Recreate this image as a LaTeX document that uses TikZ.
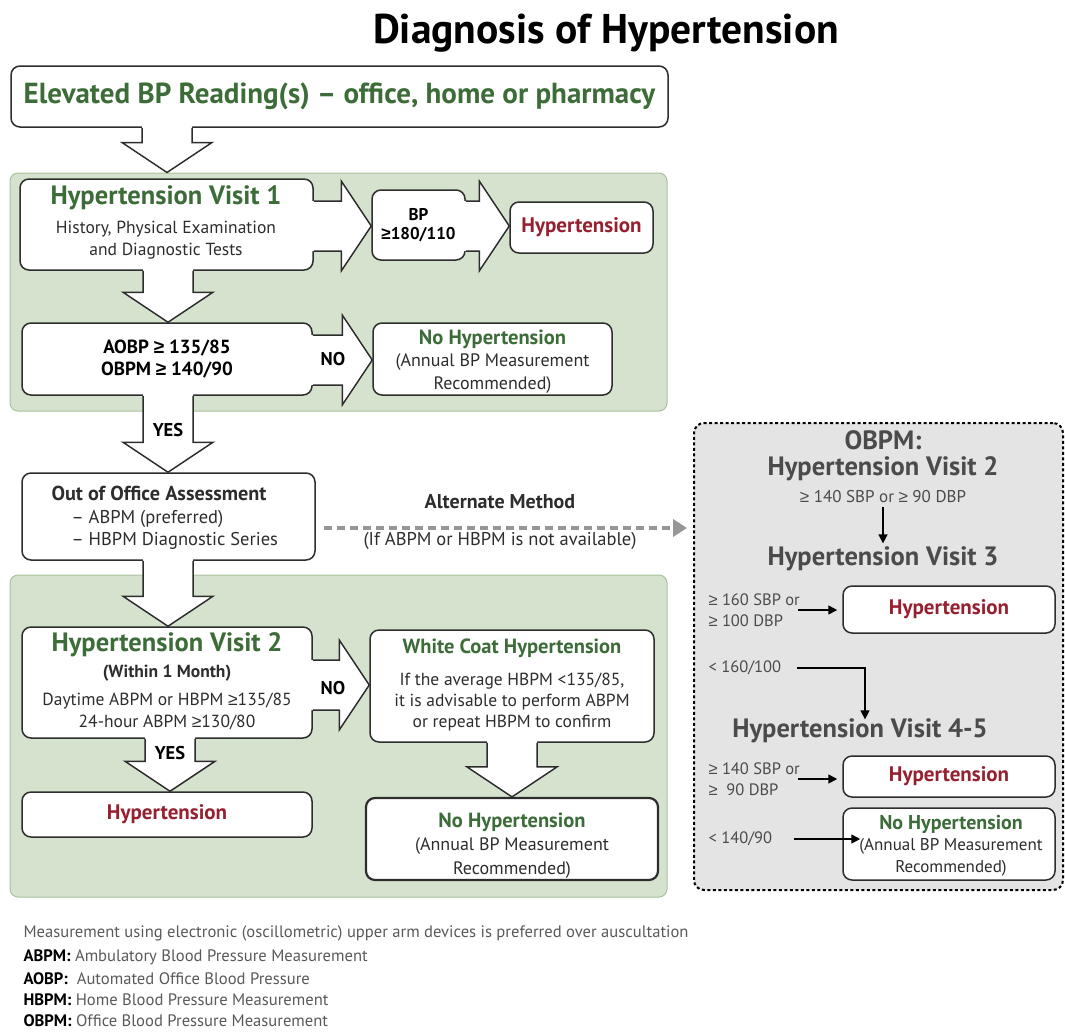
\documentclass[tikz,border=0pt]{standalone}
\usepackage{fontspec}
\setmainfont{PT Sans}
\newfontfamily\symfont{Liberation Sans}
\usetikzlibrary{arrows.meta,calc}

\definecolor{panelgreen}{RGB}{213,227,206}
\definecolor{paneledge}{RGB}{168,194,158}
\definecolor{headgreen}{RGB}{60,108,56}
\definecolor{hypred}{RGB}{150,32,48}
\definecolor{inkgray}{RGB}{45,45,45}
\definecolor{obpmfill}{RGB}{228,228,228}
\definecolor{obpmtext}{RGB}{75,75,75}
\definecolor{altgray}{RGB}{150,150,150}
\definecolor{notegray}{RGB}{90,90,90}

\newcommand{\gesign}{{\symfont ≥}}

% fat block arrows, from node to node
\newcommand{\fatdown}[3]{%
  \fill[white] let \p1=(#1.south), \p2=(#2.north) in
    (#3pt-25pt,\y1+4pt) -- (#3pt-25pt,\y2+30pt) -- (#3pt-45pt,\y2+30pt) -- (#3pt,\y2)
    -- (#3pt+45pt,\y2+30pt) -- (#3pt+25pt,\y2+30pt) -- (#3pt+25pt,\y1+4pt) -- cycle;
  \draw[fatline] let \p1=(#1.south), \p2=(#2.north) in
    (#3pt-25pt,\y1) -- (#3pt-25pt,\y2+30pt) -- (#3pt-45pt,\y2+30pt) -- (#3pt,\y2)
    -- (#3pt+45pt,\y2+30pt) -- (#3pt+25pt,\y2+30pt) -- (#3pt+25pt,\y1);
}
\newcommand{\fatright}[3]{%
  \fill[white] let \p1=(#1.east), \p2=(#2.west) in
    (\x1-4pt,-#3pt+25pt) -- (\x2-30pt,-#3pt+25pt) -- (\x2-30pt,-#3pt+45pt) -- (\x2,-#3pt)
    -- (\x2-30pt,-#3pt-45pt) -- (\x2-30pt,-#3pt-25pt) -- (\x1-4pt,-#3pt-25pt) -- cycle;
  \draw[fatline] let \p1=(#1.east), \p2=(#2.west) in
    (\x1,-#3pt+25pt) -- (\x2-30pt,-#3pt+25pt) -- (\x2-30pt,-#3pt+45pt) -- (\x2,-#3pt)
    -- (\x2-30pt,-#3pt-45pt) -- (\x2-30pt,-#3pt-25pt) -- (\x1,-#3pt-25pt);
}

\begin{document}
\begin{tikzpicture}
  [x=1pt,y=-1pt,
   box/.style={draw=inkgray,line width=1.5pt,rounded corners=9pt,fill=white,inner sep=0pt,align=center,text=inkgray},
   panel/.style={draw=paneledge,line width=1pt,rounded corners=8pt,fill=panelgreen},
   fatline/.style={draw=inkgray,line width=1.5pt},
   heading/.style={font=\fontsize{26.5}{30}\selectfont\bfseries,text=headgreen},
   body/.style={font=\fontsize{17.5}{22}\selectfont,text=inkgray,align=center},
   tag/.style={font=\fontsize{18.5}{20}\selectfont\bfseries,text=black},
   redtext/.style={font=\fontsize{21}{24}\selectfont\bfseries,text=hypred},
   nohyptext/.style={font=\fontsize{18}{22.5}\selectfont},
   obpmhead/.style={font=\fontsize{26.5}{30}\selectfont\bfseries,text=obpmtext},
   obpmnote/.style={font=\fontsize{16.5}{21}\selectfont,text=obpmtext,align=left,anchor=west},
   thin/.style={draw=black,line width=1.5pt,-{Triangle[length=9pt,width=9pt]}},
   note/.style={font=\fontsize{16.6}{18}\selectfont,text=notegray,anchor=west}]
  \useasboundingbox[fill=white] (0,0) rectangle (1065,1034);

  \node (title) at (606,33) {\fontsize{41.5}{46}\selectfont\bfseries Diagnosis of Hypertension};

  \node (panel1)[panel,minimum width=657,minimum height=238] at (338.5,292) {};
  \node (panel2)[panel,minimum width=657,minimum height=322] at (338.5,736) {};
  \node (obpm)[draw=black,line width=2pt,dash pattern=on 3pt off 2.5pt,rounded corners=10pt,fill=obpmfill,
    minimum width=369,minimum height=467] at (878.5,656.5) {};

  \node (elev)[box,minimum width=657,minimum height=61,font=\fontsize{29}{32}\selectfont\bfseries,text=headgreen]
    at (339.5,96.5) {Elevated BP Reading(s) -- office, home or pharmacy};
  \node (visit1)[box,minimum width=293,minimum height=91] at (166.5,224.5) {};
  \node (bp)[box,minimum width=93,minimum height=70,font=\fontsize{17}{19}\selectfont\bfseries,text=black]
    at (418.5,225) {BP\\\gesign180/110};
  \node (hyp1)[box,redtext,minimum width=143,minimum height=51] at (581.5,227.5) {Hypertension};
  \node (aobp)[box,minimum width=290,minimum height=72,font=\fontsize{19}{22}\selectfont\bfseries,text=black]
    at (167,359) {AOBP \gesign{} 135/85\\OBPM \gesign{} 140/90};
  \node (nohyp1)[box,minimum width=239,minimum height=72] at (492.5,359) {};
  \node (ooa)[box,minimum width=293,minimum height=87] at (168.5,516.5) {};
  \node (visit2)[box,minimum width=290,minimum height=111] at (167,682.5) {};
  \node (white)[box,minimum width=284,minimum height=112] at (512,686) {};
  \node (hyp2)[box,redtext,minimum width=290,minimum height=45] at (167,814.5) {Hypertension};
  \node (nohyp2)[box,line width=2.2pt,minimum width=292,minimum height=82] at (512,839) {};

  \node (hyp3)[box,redtext,minimum width=212,minimum height=47] at (949,609.5) {Hypertension};
  \node (hyp4)[box,redtext,minimum width=212,minimum height=41] at (949,776.5) {Hypertension};
  \node (nohyp3)[box,minimum width=212,minimum height=72] at (949,844) {};

  % block arrows
  \foreach \from/\to/\xpos in {elev/panel1/167,visit1/aobp/168,aobp/ooa/168,ooa/visit2/168,visit2/hyp2/170,white/nohyp2/512}
    \fatdown{\from}{\to}{\xpos};
  \foreach \from/\to/\ypos in {visit1/bp/226,bp/hyp1/226,aobp/nohyp1/360,visit2/white/685}
    \fatright{\from}{\to}{\ypos};

  % texts in the boxes
  \node (v1head)[heading] at (166,198) {Hypertension Visit 1};
  \node (v1body)[body] at (166,240) {History, Physical Examination\\and Diagnostic Tests};
  \node (nh1text)[nohyptext,align=center,text=inkgray] at (492.5,361.5)
    {\textcolor{headgreen}{\bfseries\fontsize{20.5}{22.5}\selectfont No Hypertension}\\(Annual BP Measurement\\Recommended)};
  \node (ooatext)[body,align=left,anchor=west,font=\fontsize{18.5}{22.5}\selectfont] at (48,518)
    {{\bfseries\fontsize{20.2}{22.5}\selectfont Out of Office Assessment}\\\hspace{20pt}-- ABPM (preferred)\\\hspace{20pt}-- HBPM Diagnostic Series};
  \node (v2head)[heading] at (167,645) {Hypertension Visit 2};
  \node (v2body)[body] at (167,697) {\textbf{(Within 1 Month)}\\[6pt]Daytime ABPM or HBPM \gesign135/85\\24-hour ABPM \gesign130/80};
  \node (wchead)[font=\fontsize{20.5}{22}\selectfont\bfseries,text=headgreen] at (512,648) {White Coat Hypertension};
  \node (wcbody)[body,font=\fontsize{17.5}{21}\selectfont] at (512,702)
    {If the average HBPM <135/85,\\it is advisable to perform ABPM\\or repeat HBPM to confirm};
  \node (nh2text)[nohyptext,font=\fontsize{18}{23.5}\selectfont,align=center,text=inkgray] at (512,845.5)
    {\textcolor{headgreen}{\bfseries\fontsize{20.5}{23.5}\selectfont No Hypertension}\\(Annual BP Measurement\\Recommended)};
  \node (nh3text)[font=\fontsize{17}{21.5}\selectfont,align=center,text=inkgray] at (951,845.5)
    {\textcolor{headgreen}{\bfseries\fontsize{20}{21.5}\selectfont No Hypertension}\\(Annual BP Measurement\\Recommended)};

  \node (no1)[tag] at (333,359) {NO};
  \node (yes1)[tag] at (168,430) {YES};
  \node (no2)[tag] at (333,688) {NO};
  \node (yes2)[tag] at (170,753) {YES};

  % alternate method
  \coordinate (altstart) at (324,528);
  \draw[draw=altgray,line width=4pt,dash pattern=on 8pt off 5pt,-{Triangle[length=14pt,width=17pt]},shorten >=6pt]
    (altstart) -- (altstart -| obpm.west);
  \node (alttitle)[font=\fontsize{20}{22}\selectfont\bfseries,text=inkgray] at (500,502) {Alternate Method};
  \node (altnote)[font=\fontsize{18.5}{20}\selectfont,text=inkgray] at (500,541) {(If ABPM or HBPM is not available)};

  % office measurement route
  \node (ohead)[obpmhead,align=center,font=\fontsize{26.5}{26}\selectfont\bfseries] at (883,456) {OBPM:\\Hypertension Visit 2};
  \node (ocrit2)[font=\fontsize{17}{19}\selectfont,text=obpmtext] at (883,497) {\gesign{} 140 SBP or \gesign{} 90 DBP};
  \node (ov3)[obpmhead] at (883,559) {Hypertension Visit 3};
  \node (ocrit3)[obpmnote] at (705,610) {\gesign{} 160 SBP or\\\gesign{} 100 DBP};
  \node (olow3)[obpmnote] at (705,668) {< 160/100};
  \node (ov45)[obpmhead] at (860,731) {Hypertension Visit 4-5};
  \node (ocrit45)[obpmnote] at (705,779) {\gesign{} 140 SBP or\\\gesign{}\ \ 90 DBP};
  \node (olow45)[obpmnote] at (705,839) {< 140/90};

  \draw[thin] (ocrit2.south) -- (ov3.north);
  \draw[thin] ([xshift=-5pt]ocrit3.east) -- ([xshift=-5pt]ocrit3.east -| hyp3.west);
  \draw[thin] ([xshift=12pt]olow3.east) -| ([yshift=-4pt]ov45.north -| 865,0);
  \draw[thin] ([xshift=-5pt]ocrit45.east) -- ([xshift=-5pt]ocrit45.east -| hyp4.west);
  \draw[thin] ([xshift=18pt]olow45.east) -- ([xshift=18pt]olow45.east -| nohyp3.west);

  % abbreviations
  \node (note0)[note] at (20,933) {Measurement using electronic (oscillometric) upper arm devices is preferred over auscultation};
  \foreach \abbr/\full/\ypos [count=\i] in {ABPM/Ambulatory Blood Pressure Measurement/957,
      AOBP/\ Automated Office Blood Pressure/979,HBPM/Home Blood Pressure Measurement/1000,
      OBPM/Office Blood Pressure Measurement/1021}
    \node (note\i)[note] at (20,\ypos) {\textcolor{black}{\bfseries\abbr:} \full};
\end{tikzpicture}
\end{document}
